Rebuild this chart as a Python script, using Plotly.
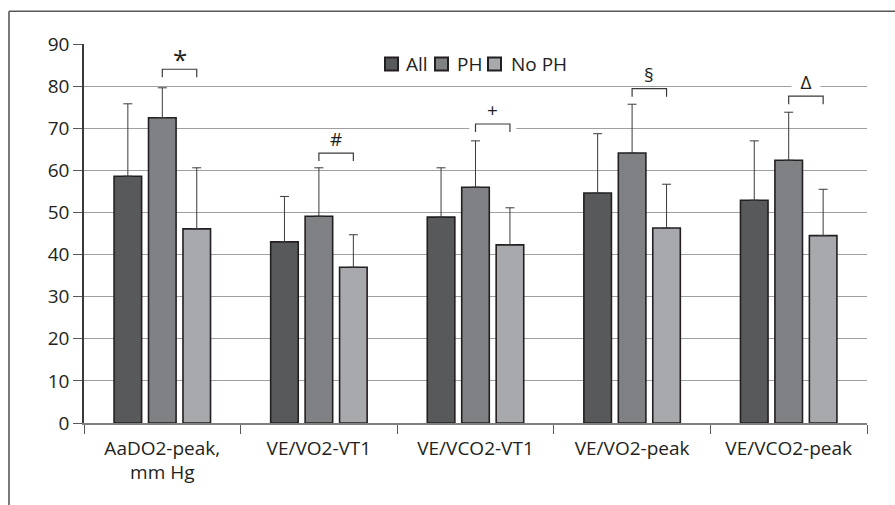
import plotly.graph_objects as go

categories = ["AaDO2-peak,<br>mm Hg", "VE/VO2-VT1", "VE/VCO2-VT1", "VE/VO2-peak", "VE/VCO2-peak"]
all_vals = [58.6, 43.0, 48.9, 54.6, 52.9]
all_err = [17.2, 10.8, 11.7, 14.1, 14.1]
ph_vals = [72.5, 49.1, 56.0, 64.1, 62.4]
ph_err = [7.1, 11.5, 11.0, 11.6, 11.4]
noph_vals = [46.1, 37.0, 42.3, 46.3, 44.5]
noph_err = [14.5, 7.7, 8.8, 10.4, 11.0]
sig_symbols = ["*", "#", "+", "§", "Δ"]
bracket_bottom = [82.1, 62.2, 69.1, 77.5, 75.7]
y_ticks = [0, 10, 20, 30, 40, 50, 60, 70, 80, 90]
series_names = ["All", "PH", "No PH"]
series_colors = ["#58595b", "#808184", "#a7a9ac"]

BARGAP = 0.34
NSER = 3
slot = (1 - BARGAP) / NSER
FONT = "Open Sans"
TXT = "#231f20"
OUTLINE = "#231f20"

# layout geometry (pixels)
W, H = 895, 505
L, R, T, B = 84, 28, 43.5, 82.3
pw, ph = W - L - R, H - T - B


def px_x(x):
    return (x - L) / pw


def px_y(y):
    return (H - B - y) / ph


fig = go.Figure()
for name, vals, err, col in zip(series_names, [all_vals, ph_vals, noph_vals],
                                [all_err, ph_err, noph_err], series_colors):
    fig.add_trace(go.Bar(
        name=name, x=categories, y=vals, showlegend=False,
        marker=dict(color=col, line=dict(color=OUTLINE, width=1.6)),
        error_y=dict(type="data", array=err, symmetric=False, arrayminus=[0] * len(err),
                     color="#3a3a3a", thickness=1, width=4.5),
    ))

shapes = []
annotations = []
tick_len = 1.9
for i, (sym, yb) in enumerate(zip(sig_symbols, bracket_bottom)):
    x0 = i
    x1 = i + slot
    ytop = yb + tick_len
    shapes.append(dict(type="rect", xref="x", yref="y", x0=x0 - 0.04, x1=x1 + 0.04,
                       y0=yb - 0.3, y1=ytop + 0.25, fillcolor="white", line=dict(width=0),
                       layer="above"))
    shapes.append(dict(type="path", xref="x", yref="y",
                       path=f"M {x0},{yb} L {x0},{ytop} L {x1},{ytop} L {x1},{yb}",
                       line=dict(color="#3a3a3a", width=1.2), layer="above"))
    big = sym == "*"
    ann = dict(x=(x0 + x1) / 2, y=ytop, xref="x", yref="y", text=sym,
               showarrow=False, yanchor="middle", yshift=(10 if big else 14),
               font=dict(size=26 if big else 19, color=TXT, family=FONT))
    if sym == "Δ":
        ann.update(bgcolor="white", borderpad=0, width=28, height=18)
    annotations.append(ann)

# custom legend (centred above the bars)
leg_sq_left = [385, 435, 488]
leg_txt_left = [404, 455, 509]
leg_cy = 63.5
for name, col, sx, tx in zip(series_names, series_colors, leg_sq_left, leg_txt_left):
    shapes.append(dict(type="rect", xref="paper", yref="paper",
                       x0=px_x(sx), x1=px_x(sx + 13), y0=px_y(leg_cy - 6.5), y1=px_y(leg_cy + 6.5),
                       fillcolor=col, line=dict(color=OUTLINE, width=2), layer="above"))
    annotations.append(dict(x=px_x(tx), y=px_y(leg_cy), xref="paper", yref="paper", text=name,
                            showarrow=False, xanchor="left", yanchor="middle",
                            font=dict(size=19, color=TXT, family=FONT)))

# outer frame (top and left edges)
fx = px_x(9)
fy = px_y(10.7)
shapes.append(dict(type="line", xref="paper", yref="paper", x0=fx, x1=2, y0=fy, y1=fy,
                   line=dict(color="#58595b", width=1.6), layer="above"))
shapes.append(dict(type="line", xref="paper", yref="paper", x0=fx, x1=fx, y0=fy, y1=-2,
                   line=dict(color="#58595b", width=1.6), layer="above"))

fig.update_layout(
    width=W, height=H,
    margin=dict(l=L, r=R, t=T, b=B),
    paper_bgcolor="white", plot_bgcolor="white",
    barmode="group", bargap=BARGAP, bargroupgap=0.2,
    font=dict(family=FONT, size=19, color=TXT),
    shapes=shapes, annotations=annotations,
    showlegend=False,
)
fig.update_xaxes(type="category", tickson="boundaries", ticks="outside", ticklen=9,
                 tickcolor="#58595b", showline=True, linecolor="#808080", linewidth=1.5,
                 showgrid=False, tickfont=dict(size=19, color=TXT, family=FONT), range=[-0.5, 4.5],
                 ticklabelstandoff=7)
fig.update_yaxes(range=[0, 90], tickvals=y_ticks, ticks="outside", ticklen=9,
                 tickcolor="#58595b", showline=True, linecolor="#3a3a3a", linewidth=1.5,
                 showgrid=True, gridcolor="#a0a0a0", gridwidth=1.3, zeroline=False,
                 tickfont=dict(size=19, color=TXT, family=FONT))

fig.write_html("out.html")
